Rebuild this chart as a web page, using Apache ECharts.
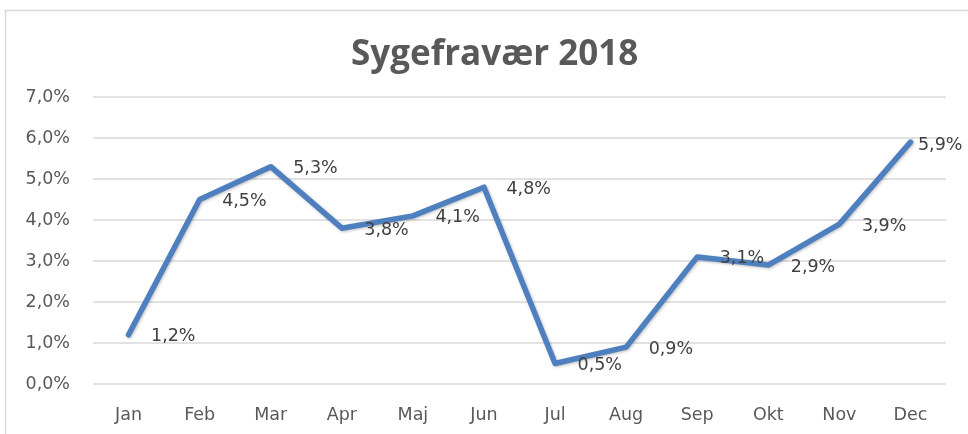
<!DOCTYPE html>
<html><head><meta charset="utf-8">
<script src="https://cdn.jsdelivr.net/npm/echarts@6/dist/echarts.min.js"></script>
<style>html,body{margin:0;padding:0;background:#fff}#c{width:968px;height:434px}</style>
</head><body><div id="c"></div>
<script>
const categories = ['Jan','Feb','Mar','Apr','Maj','Jun','Jul','Aug','Sep','Okt','Nov','Dec'];
const values = [1.2, 4.5, 5.3, 3.8, 4.1, 4.8, 0.5, 0.9, 3.1, 2.9, 3.9, 5.9];
const titleText = 'Sygefravær 2018';
const fmt = v => v.toFixed(1).replace('.', ',') + '%';
const LBL = 'DejaVu Sans';

const seriesData = values.map((v, i) => i === values.length - 1
  ? {value: v, label: {distance: 7, offset: [0, 3]}}
  : v);

const chart = echarts.init(document.getElementById('c'), null, {renderer:'canvas'});
chart.setOption({
  animation:false,
  graphic:[{type:'rect', shape:{x:5.5,y:10.5,width:1000,height:500}, style:{fill:'none',stroke:'#d9d9d9',lineWidth:1.5}, silent:true}],
  title:{text:titleText,left:346,top:33,
    textStyle:{fontFamily:'Open Sans',fontWeight:'bold',fontSize:35,color:'#595959'}},
  grid:{left:93,right:22,top:97,bottom:50},
  xAxis:{type:'category',data:categories,boundaryGap:true,
    axisLine:{show:false},axisTick:{show:false},
    axisLabel:{fontFamily:LBL,fontSize:17.5,color:'#595959',margin:22}},
  yAxis:{type:'value',min:0,max:7,interval:1,
    axisLine:{show:false},axisTick:{show:false},
    splitLine:{lineStyle:{color:'#d9d9d9',width:1.5}},
    axisLabel:{fontFamily:LBL,fontSize:17.5,color:'#595959',margin:23,formatter:fmt}},
  series:[{type:'line',data:seriesData,symbol:'circle',symbolSize:1,
    itemStyle:{color:'#4e7fbf'},
    lineStyle:{color:'#4e7fbf',width:5.5,cap:'round',join:'round',shadowColor:'rgba(0,0,0,0.25)',shadowBlur:3,shadowOffsetX:1,shadowOffsetY:1},
    label:{show:true,position:'right',distance:22,offset:[0,2],formatter:p=>fmt(p.value),
      fontFamily:LBL,fontSize:17.5,color:'#404040'}}]
});
</script></body></html>
